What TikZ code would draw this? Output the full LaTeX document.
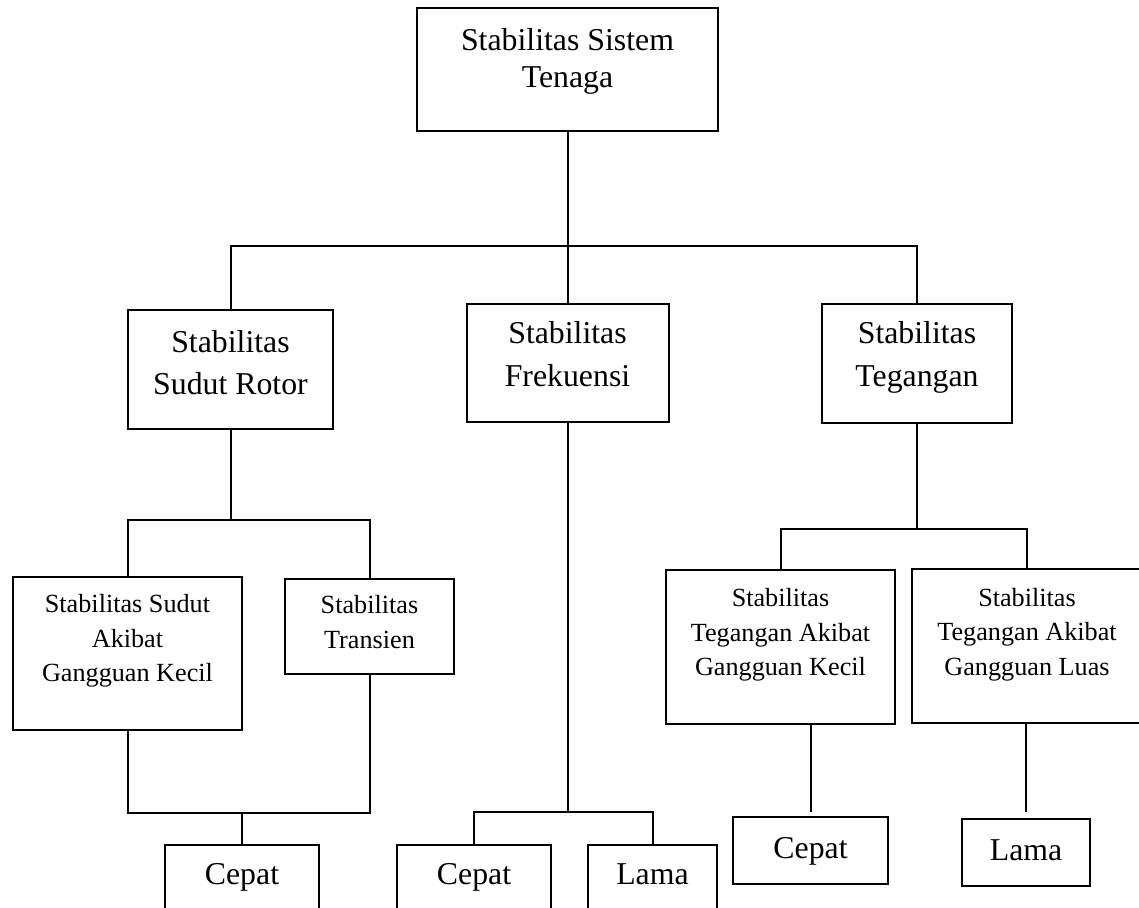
\documentclass[tikz,border=0pt]{standalone}
\usepackage{fontspec}
\setmainfont{Liberation Serif}
\newcommand{\besar}{\fontsize{15.9pt}{21.3pt}\selectfont}
\newcommand{\kecil}{\fontsize{13.1pt}{17.25pt}\selectfont}
\tikzset{
  kotak/.style={draw, line width=1pt, align=center, inner sep=0pt, font=\besar},
  kotakkecil/.style={kotak, font=\kecil},
  garis/.style={line width=1pt}
}

\begin{document}
\begin{tikzpicture}[x=0.5pt, y=-0.5pt]
  \clip (0,0) rectangle (1139,908);
  \fill[white] (0,0) rectangle (1139,908);

  \node[kotak, minimum width=150.5pt, minimum height=61.5pt, text depth=11.5pt,
        font=\fontsize{15.9pt}{18.7pt}\selectfont] (sistem) at (567.5,69.5) {Stabilitas Sistem\\Tenaga};

  \node[kotak, minimum width=102.5pt, minimum height=59.5pt, text depth=7.2pt] (rotor) at (230.5,369.5) {Stabilitas\\Sudut Rotor};
  \node[kotak, minimum width=101pt, minimum height=59pt, text depth=9.2pt] (frek) at (567.5,363) {Stabilitas\\Frekuensi};
  \node[kotak, minimum width=95pt, minimum height=59.5pt, text depth=9.4pt] (teg) at (917,363.5) {Stabilitas\\Tegangan};

  \node[kotakkecil, minimum width=114.5pt, minimum height=76.5pt, text depth=15.2pt] (sudutkecil) at (127.5,653.5) {Stabilitas Sudut\\Akibat\\Gangguan Kecil};
  \node[kotakkecil, minimum width=84.5pt, minimum height=47.5pt, text depth=4.4pt] (transien) at (369.5,626.5) {Stabilitas\\Transien};
  \node[kotakkecil, minimum width=114.5pt, minimum height=77pt, text depth=14.7pt] (tegkecil) at (780.5,647) {Stabilitas\\Tegangan Akibat\\Gangguan Kecil};
  \node[kotakkecil, minimum width=115pt, minimum height=77pt, text depth=14.4pt] (tegluas) at (1027,646) {Stabilitas\\Tegangan Akibat\\Gangguan Luas};

  \node[kotak, minimum width=77pt, minimum height=36pt, text depth=6.8pt] (cepat1) at (242,881) {Cepat};
  \node[kotak, minimum width=77pt, minimum height=36pt, text depth=6.8pt] (cepat2) at (474,881) {Cepat};
  \node[kotak, minimum width=64.5pt, minimum height=36pt, text depth=6.8pt] (lama2) at (652.5,881) {Lama};
  \node[kotak, minimum width=77.5pt, minimum height=33.5pt, text depth=2.5pt] (cepat3) at (810.5,850.5) {Cepat};
  \node[kotak, minimum width=64pt, minimum height=33.5pt, text depth=2.5pt] (lama3) at (1026,852.5) {Lama};

  \coordinate (c1) at (567.5,246);
  \coordinate (c2) at (230.5,520);
  \coordinate (c3) at (242,813);
  \coordinate (c4) at (567.5,812);
  \coordinate (c5) at (917,529);

  \draw[garis] (sistem) -- (c1);
  \draw[garis] (rotor) |- (c1) -| (teg);
  \draw[garis] (c1) -- (frek);

  \draw[garis] (rotor) -- (c2);
  \draw[garis] (sudutkecil) |- (c2) -| (transien);
  \draw[garis] (sudutkecil) |- (c3) -| (transien);
  \draw[garis] (c3) -- (cepat1);

  \draw[garis] (frek) -- (c4);
  \draw[garis] (cepat2) |- (c4) -| (lama2);

  \draw[garis] (teg) -- (c5);
  \draw[garis] (tegkecil) |- (c5) -| (tegluas);
  \draw[garis, shorten >=2pt] (tegkecil.south -| cepat3) -- (cepat3);
  \draw[garis, shorten >=3pt] (tegluas.south -| lama3) -- (lama3);
\end{tikzpicture}
\end{document}
